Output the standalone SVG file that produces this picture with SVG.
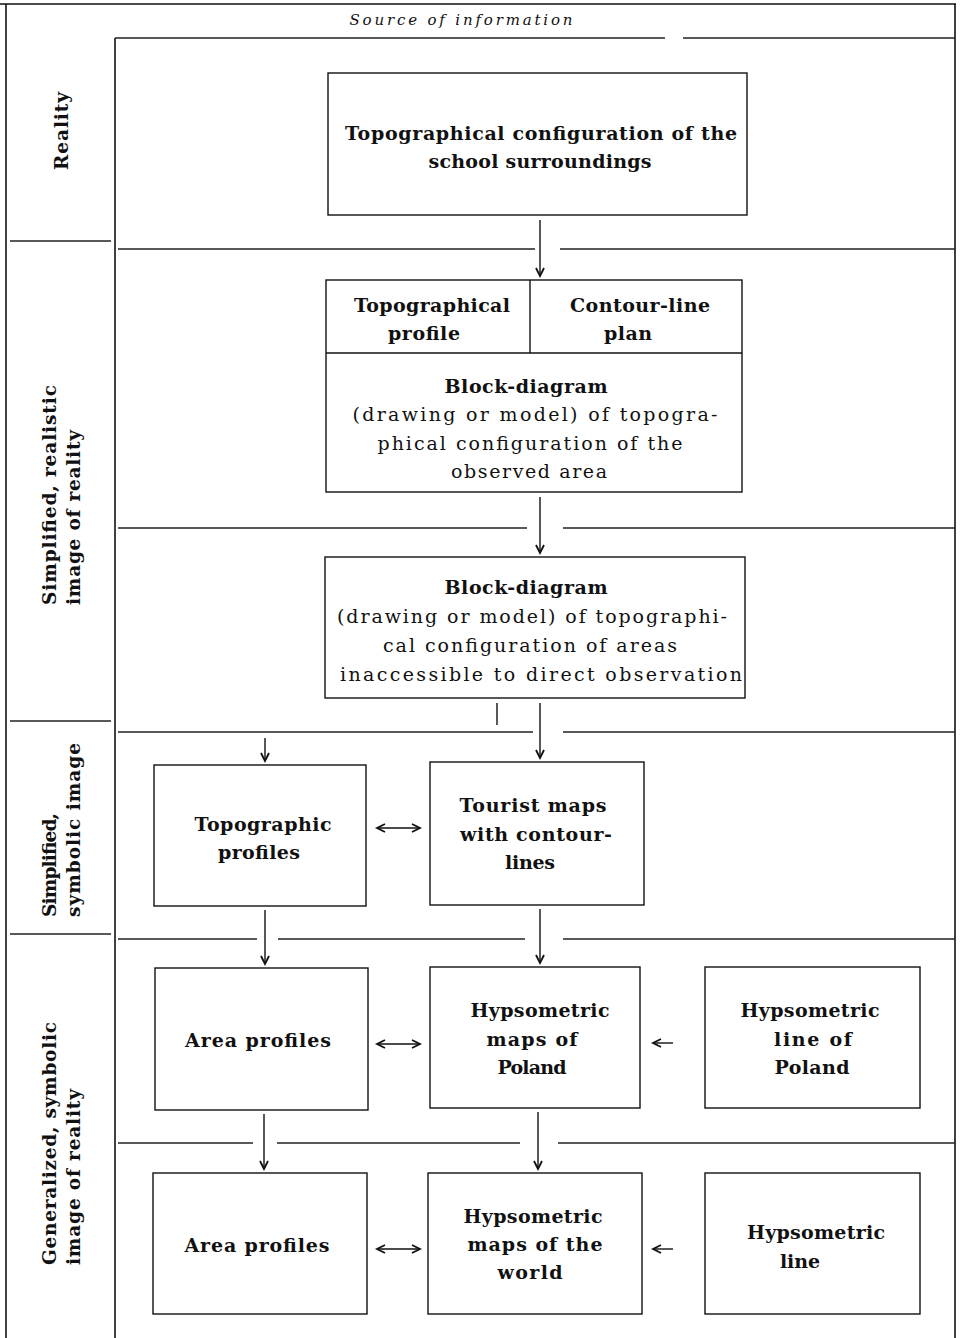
<svg xmlns="http://www.w3.org/2000/svg" width="961" height="1338" viewBox="0 0 961 1338">
<style>
.frame{stroke:#111;stroke-width:1.6;fill:none}
.sep{stroke:#222;stroke-width:1.3;fill:none}
.box{stroke:#111;stroke-width:1.4;fill:none}
.conn{stroke:#111;stroke-width:1.4;fill:none}
.b{font-family:"DejaVu Serif","Liberation Serif",serif;font-weight:bold;font-size:19px;fill:#111}
.r{font-family:"DejaVu Serif","Liberation Serif",serif;font-weight:normal;font-size:19px;fill:#111}
.it{font-family:"DejaVu Serif","Liberation Serif",serif;font-style:italic;font-size:15px;fill:#111}
.lbl{font-family:"DejaVu Serif","Liberation Serif",serif;font-weight:bold;font-size:18.5px;fill:#111}
</style>
<defs>
<marker id="ah" markerWidth="12" markerHeight="12" refX="9" refY="5" orient="auto-start-reverse" markerUnits="userSpaceOnUse">
<path d="M1,1 L9,5 L1,9" fill="none" stroke="#111" stroke-width="1.8"/>
</marker>
</defs>
<rect width="961" height="1338" fill="#fff"/>

<g id="frame">
<line class="frame" x1="0" y1="4" x2="956" y2="4"/>
<line class="frame" x1="6" y1="4" x2="6" y2="1338"/>
<line class="frame" x1="955" y1="4" x2="955" y2="1338"/>
<line class="frame" x1="115" y1="38" x2="115" y2="1338"/>
<text class="it" x="461" y="25" text-anchor="middle" textLength="223" lengthAdjust="spacing">Source of information</text>
<line class="sep" x1="115" y1="38" x2="665" y2="38"/>
<line class="sep" x1="683" y1="38" x2="955" y2="38"/>
<line class="sep" x1="10" y1="241" x2="111" y2="241"/>
<line class="sep" x1="10" y1="721" x2="111" y2="721"/>
<line class="sep" x1="10" y1="934" x2="111" y2="934"/>
<line class="sep" x1="118" y1="249" x2="535" y2="249"/>
<line class="sep" x1="560" y1="249" x2="955" y2="249"/>
<line class="sep" x1="118" y1="528" x2="527" y2="528"/>
<line class="sep" x1="563" y1="528" x2="955" y2="528"/>
<line class="sep" x1="118" y1="732" x2="533" y2="732"/>
<line class="sep" x1="563" y1="732" x2="955" y2="732"/>
<line class="sep" x1="118" y1="939" x2="257" y2="939"/>
<line class="sep" x1="278" y1="939" x2="525" y2="939"/>
<line class="sep" x1="563" y1="939" x2="955" y2="939"/>
<line class="sep" x1="118" y1="1143" x2="253" y2="1143"/>
<line class="sep" x1="277" y1="1143" x2="520" y2="1143"/>
<line class="sep" x1="558" y1="1143" x2="955" y2="1143"/>
</g>

<g id="lanes">
<text class="lbl" transform="translate(68,131) rotate(-90)" text-anchor="middle" textLength="78" lengthAdjust="spacing">Reality</text>
<text class="lbl" transform="translate(56,605) rotate(-90)" textLength="220" lengthAdjust="spacing">Simplified, realistic</text>
<text class="lbl" transform="translate(80,605) rotate(-90)" textLength="175" lengthAdjust="spacing">image of reality</text>
<text class="lbl" transform="translate(56,917) rotate(-90)" textLength="104" lengthAdjust="spacing">Simplified,</text>
<text class="lbl" transform="translate(80,917) rotate(-90)" textLength="174" lengthAdjust="spacing">symbolic image</text>
<text class="lbl" transform="translate(56,1265) rotate(-90)" textLength="243" lengthAdjust="spacing">Generalized, symbolic</text>
<text class="lbl" transform="translate(80,1265) rotate(-90)" textLength="176" lengthAdjust="spacing">image of reality</text>
</g>

<g id="n1">
<rect class="box" x="328" y="73" width="419" height="142"/>
<text class="b" x="541" y="140" text-anchor="middle" textLength="392" lengthAdjust="spacing">Topographical configuration of the</text>
<text class="b" x="540" y="168" text-anchor="middle" textLength="223" lengthAdjust="spacing">school surroundings</text>
</g>

<g id="n2">
<rect class="box" x="326" y="280" width="416" height="212"/>
<line class="box" x1="326" y1="353" x2="742" y2="353"/>
<line class="box" x1="530" y1="280" x2="530" y2="353"/>
<text class="b" x="432" y="312" text-anchor="middle" textLength="156" lengthAdjust="spacing">Topographical</text>
<text class="b" x="424" y="340" text-anchor="middle" textLength="72" lengthAdjust="spacing">profile</text>
<text class="b" x="640" y="312" text-anchor="middle" textLength="140" lengthAdjust="spacing">Contour-line</text>
<text class="b" x="628" y="340" text-anchor="middle" textLength="48" lengthAdjust="spacing">plan</text>
<text class="b" x="526" y="393" text-anchor="middle" textLength="163" lengthAdjust="spacing">Block-diagram</text>
<text class="r" x="535" y="421" text-anchor="middle" textLength="365" lengthAdjust="spacing">(drawing or model) of topogra-</text>
<text class="r" x="530" y="450" text-anchor="middle" textLength="305" lengthAdjust="spacing">phical configuration of the</text>
<text class="r" x="529" y="478" text-anchor="middle" textLength="156" lengthAdjust="spacing">observed area</text>
</g>

<g id="n3">
<rect class="box" x="325" y="557" width="420" height="141"/>
<text class="b" x="526" y="594" text-anchor="middle" textLength="163" lengthAdjust="spacing">Block-diagram</text>
<text class="r" x="532" y="623" text-anchor="middle" textLength="390" lengthAdjust="spacing">(drawing or model) of topographi-</text>
<text class="r" x="530" y="652" text-anchor="middle" textLength="294" lengthAdjust="spacing">cal configuration of areas</text>
<text class="r" x="541" y="681" text-anchor="middle" textLength="402" lengthAdjust="spacing">inaccessible to direct observation</text>
</g>

<g id="n4">
<rect class="box" x="154" y="765" width="212" height="141"/>
<text class="b" x="263" y="831" text-anchor="middle" textLength="137" lengthAdjust="spacing">Topographic</text>
<text class="b" x="259" y="859" text-anchor="middle" textLength="82" lengthAdjust="spacing">profiles</text>
</g>

<g id="n5">
<rect class="box" x="430" y="762" width="214" height="143"/>
<text class="b" x="533" y="812" text-anchor="middle" textLength="147" lengthAdjust="spacing">Tourist maps</text>
<text class="b" x="536" y="841" text-anchor="middle" textLength="152" lengthAdjust="spacing">with contour-</text>
<text class="b" x="530" y="869" text-anchor="middle" textLength="50" lengthAdjust="spacing">lines</text>
</g>

<g id="n6">
<rect class="box" x="155" y="968" width="213" height="142"/>
<text class="b" x="258" y="1047" text-anchor="middle" textLength="146" lengthAdjust="spacing">Area profiles</text>
</g>

<g id="n7">
<rect class="box" x="430" y="967" width="210" height="141"/>
<text class="b" x="540" y="1017" text-anchor="middle" textLength="139" lengthAdjust="spacing">Hypsometric</text>
<text class="b" x="532" y="1046" text-anchor="middle" textLength="91" lengthAdjust="spacing">maps of</text>
<text class="b" x="532" y="1074" text-anchor="middle" textLength="69" lengthAdjust="spacing">Poland</text>
</g>

<g id="n8">
<rect class="box" x="705" y="967" width="215" height="141"/>
<text class="b" x="810" y="1017" text-anchor="middle" textLength="139" lengthAdjust="spacing">Hypsometric</text>
<text class="b" x="813" y="1046" text-anchor="middle" textLength="78" lengthAdjust="spacing">line of</text>
<text class="b" x="812" y="1074" text-anchor="middle" textLength="75" lengthAdjust="spacing">Poland</text>
</g>

<g id="n9">
<rect class="box" x="153" y="1173" width="214" height="141"/>
<text class="b" x="257" y="1252" text-anchor="middle" textLength="145" lengthAdjust="spacing">Area profiles</text>
</g>

<g id="n10">
<rect class="box" x="428" y="1173" width="214" height="141"/>
<text class="b" x="533" y="1223" text-anchor="middle" textLength="139" lengthAdjust="spacing">Hypsometric</text>
<text class="b" x="535" y="1251" text-anchor="middle" textLength="135" lengthAdjust="spacing">maps of the</text>
<text class="b" x="530" y="1279" text-anchor="middle" textLength="65" lengthAdjust="spacing">world</text>
</g>

<g id="n11">
<rect class="box" x="705" y="1173" width="215" height="141"/>
<text class="b" x="816" y="1239" text-anchor="middle" textLength="138" lengthAdjust="spacing">Hypsometric</text>
<text class="b" x="800" y="1268" text-anchor="middle" textLength="40" lengthAdjust="spacing">line</text>
</g>

<g id="connectors">
<line class="conn" x1="540" y1="220" x2="540" y2="276" marker-end="url(#ah)"/>
<line class="conn" x1="540" y1="497" x2="540" y2="553" marker-end="url(#ah)"/>
<line class="conn" x1="540" y1="703" x2="540" y2="758" marker-end="url(#ah)"/>
<line class="conn" x1="497" y1="703" x2="497" y2="725"/>
<line class="conn" x1="265" y1="738" x2="265" y2="761" marker-end="url(#ah)"/>
<line class="conn" x1="265" y1="910" x2="265" y2="964" marker-end="url(#ah)"/>
<line class="conn" x1="540" y1="909" x2="540" y2="963" marker-end="url(#ah)"/>
<line class="conn" x1="264" y1="1114" x2="264" y2="1169" marker-end="url(#ah)"/>
<line class="conn" x1="538" y1="1112" x2="538" y2="1169" marker-end="url(#ah)"/>
<line class="conn" x1="377" y1="828" x2="420" y2="828" marker-start="url(#ah)" marker-end="url(#ah)"/>
<line class="conn" x1="377" y1="1044" x2="420" y2="1044" marker-start="url(#ah)" marker-end="url(#ah)"/>
<line class="conn" x1="377" y1="1249" x2="420" y2="1249" marker-start="url(#ah)" marker-end="url(#ah)"/>
<line class="conn" x1="673" y1="1043" x2="653" y2="1043" marker-end="url(#ah)"/>
<line class="conn" x1="673" y1="1249" x2="653" y2="1249" marker-end="url(#ah)"/>
</g>
</svg>
